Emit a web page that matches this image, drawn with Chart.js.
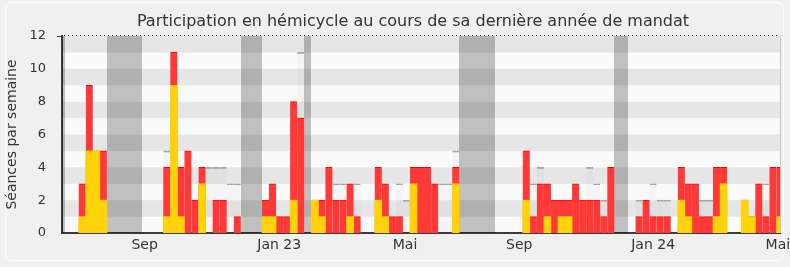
<!DOCTYPE html>
<html>
<head>
<meta charset="utf-8">
<script src="https://cdn.jsdelivr.net/npm/chart.js@4/dist/chart.umd.min.js"></script>
<style>
  html, body { margin: 0; padding: 0; background: #f0f0f0; }
  #wrap { width: 790px; height: 267px; }
</style>
</head>
<body>
<div id="wrap"><canvas id="chart" width="790" height="267"></canvas></div>
<script>
// one value per week, week 0 = first full week shown
const presences = [
  0, 0, 3, 9, 5, 5, 0, 0, 0, 0,
  0, 0, 0, 0, 4, 11, 4, 5, 2, 4,
  0, 2, 2, 0, 1, 0, 0, 0, 2, 3,
  1, 1, 8, 7, 0, 2, 2, 4, 2, 2,
  3, 1, 0, 0, 4, 3, 1, 1, 0, 4,
  4, 4, 3, 0, 0, 4, 0, 0, 0, 0,
  0, 0, 0, 0, 0, 5, 1, 3, 3, 2,
  2, 2, 3, 2, 2, 2, 1, 4, 0, 0,
  0, 1, 2, 1, 1, 1, 0, 4, 3, 3,
  1, 1, 4, 4, 0, 0, 2, 1, 3, 1,
  4, 4
];
const interventions = [
  0, 0, 1, 5, 5, 2, 0, 0, 0, 0,
  0, 0, 0, 0, 1, 9, 1, 0, 0, 3,
  0, 0, 0, 0, 0, 0, 0, 0, 1, 1,
  0, 0, 2, 0, 0, 2, 1, 0, 0, 0,
  1, 0, 0, 0, 2, 1, 0, 0, 0, 3,
  0, 0, 0, 0, 0, 3, 0, 0, 0, 0,
  0, 0, 0, 0, 0, 2, 0, 0, 1, 0,
  1, 1, 0, 0, 0, 0, 0, 0, 0, 0,
  0, 0, 0, 0, 0, 0, 0, 2, 1, 0,
  0, 0, 1, 3, 0, 0, 2, 1, 0, 0,
  0, 1
];
const mediane = [
  0, 0, 0, 0, 0, 0, 0, 0, 0, 0,
  0, 0, 0, 0, 5, 0, 0, 0, 0, 0,
  4, 4, 4, 3, 3, 0, 0, 0, 0, 0,
  0, 0, 0, 11, 0, 0, 0, 0, 3, 3,
  0, 3, 0, 0, 0, 0, 0, 3, 2, 0,
  0, 0, 0, 3, 3, 5, 0, 0, 0, 0,
  0, 0, 0, 0, 0, 0, 3, 4, 0, 0,
  0, 0, 0, 0, 4, 3, 2, 0, 0, 0,
  0, 2, 0, 3, 2, 2, 0, 0, 0, 0,
  2, 2, 0, 0, 0, 0, 0, 0, 0, 3,
  0, 0
];
// weeks of parliamentary recess
const vacances = [-1, 6, 7, 8, 9, 10, 25, 26, 27, 34, 56, 57, 58, 59, 60, 78, 79];
const tickWeeks = [11.35, 30.45, 48.3, 64.5, 83.5, 101.2];
const tickLabels = ['Sep', 'Jan 23', 'Mai', 'Sep', 'Jan 24', 'Mai'];
const yMax = 12;
const titre = 'Participation en hémicycle au cours de sa dernière année de mandat';

const toPoints = (arr) => arr.map((v, i) => ({ x: i + 0.5, y: v || null }));
const topOnly = (w) => ({ top: w, left: 0, right: 0, bottom: 0 });

const decor = {
  id: 'decor',
  beforeDraw(chart) {
    const { ctx, chartArea: a, scales: { y } } = chart;
    ctx.save();
    // rounded frame
    ctx.strokeStyle = '#fcfcfc';
    ctx.lineWidth = 1;
    ctx.beginPath();
    ctx.roundRect(5.5, 2.5, 778, 258, 6);
    ctx.stroke();
    // horizontal stripes
    for (let v = 0; v < yMax; v++) {
      ctx.fillStyle = v % 2 === 0 ? '#fafafa' : '#e6e6e6';
      const t = y.getPixelForValue(v + 1), b = y.getPixelForValue(v);
      ctx.fillRect(a.left, t, a.right - a.left, b - t);
    }
    // title
    ctx.fillStyle = '#333';
    ctx.font = '16px "DejaVu Sans", Verdana, sans-serif';
    ctx.textAlign = 'center';
    ctx.textBaseline = 'alphabetic';
    ctx.fillText(titre, 413, 26);
    ctx.restore();
  },
  beforeDatasetsDraw(chart) {
    // recess weeks, merged into continuous bands
    const { ctx, chartArea: a, scales: { x } } = chart;
    ctx.save();
    ctx.beginPath();
    ctx.rect(a.left, a.top, a.right - a.left, a.bottom - a.top);
    ctx.clip();
    ctx.fillStyle = 'rgba(0,0,0,0.23)';
    let i = 0;
    while (i < vacances.length) {
      let j = i;
      while (j + 1 < vacances.length && vacances[j + 1] === vacances[j] + 1) j++;
      const l = Math.round(x.getPixelForValue(vacances[i]));
      const r = Math.round(x.getPixelForValue(vacances[j] + 1));
      ctx.fillRect(l, a.top, r - l, a.bottom - a.top);
      i = j + 1;
    }
    ctx.restore();
  },
  afterDraw(chart) {
    const { ctx, chartArea: a } = chart;
    ctx.save();
    ctx.strokeStyle = '#222';
    ctx.lineWidth = 1;
    ctx.setLineDash([1, 3]);
    ctx.beginPath();
    ctx.moveTo(a.left + 2, a.top - 0.5);
    ctx.lineTo(a.right, a.top - 0.5);
    ctx.stroke();
    ctx.setLineDash([]);
    ctx.strokeStyle = '#3c3c3c';
    ctx.beginPath();
    ctx.moveTo(a.left - 5, a.top + 0.5);
    ctx.lineTo(a.left, a.top + 0.5);
    ctx.stroke();
    ctx.strokeStyle = '#c8c8c8';
    ctx.beginPath();
    ctx.moveTo(a.right + 0.5, a.top);
    ctx.lineTo(a.right + 0.5, a.bottom);
    ctx.stroke();
    ctx.restore();
  }
};

Chart.defaults.font.family = '"DejaVu Sans", Verdana, sans-serif';
Chart.defaults.color = '#333';

new Chart(document.getElementById('chart'), {
  type: 'bar',
  data: {
    datasets: [
      {
        label: 'Interventions',
        data: toPoints(interventions),
        backgroundColor: '#ffd20a',
        borderWidth: 0,
        order: 1,
      },
      {
        label: 'Présences',
        data: toPoints(presences),
        backgroundColor: '#ff3838',
        borderColor: '#ff0000',
        borderWidth: topOnly(1),
        order: 2,
      },
      {
        label: 'Médiane',
        data: toPoints(mediane),
        backgroundColor: 'rgba(0,0,0,0.025)',
        borderColor: '#a8a8a8',
        borderWidth: topOnly(1),
        order: 3,
      },
    ],
  },
  options: {
    responsive: false,
    animation: false,
    devicePixelRatio: 1,
    layout: { padding: { left: 0, right: 10, top: 36, bottom: 0 } },
    datasets: { bar: { grouped: false, barPercentage: 1, categoryPercentage: 1, clip: 0 } },
    plugins: {
      legend: { display: false },
      tooltip: { enabled: false },
      title: { display: false },
    },
    scales: {
      x: {
        type: 'linear',
        offset: false,
        min: -0.37,
        max: 101.5,
        z: 1,
        grid: { display: false, drawTicks: false },
        border: { display: true, color: '#3c3c3c', width: 2 },
        afterBuildTicks: (s) => { s.ticks = tickWeeks.map((v) => ({ value: v })); },
        ticks: {
          autoSkip: false,
          maxRotation: 0,
          padding: 4,
          font: { size: 14 },
          color: '#333',
          callback: (v, i) => tickLabels[i],
        },
        afterFit: (s) => { s.height = 34; s.paddingLeft = 0; s.paddingRight = 0; },
      },
      y: {
        min: 0,
        max: yMax,
        z: 1,
        grid: { display: false, drawTicks: false },
        border: { display: true, color: '#3c3c3c', width: 2 },
        ticks: { stepSize: 1, padding: 16, font: { size: 13 }, color: '#333' },
        title: {
          display: true,
          text: 'Séances par semaine',
          font: { size: 14 },
          color: '#333',
          padding: { top: 4, bottom: 0 },
        },
        afterFit: (s) => { s.width = 62; s.paddingTop = 0; s.paddingBottom = 0; },
      },
    },
  },
  plugins: [decor],
});
</script>
</body>
</html>
